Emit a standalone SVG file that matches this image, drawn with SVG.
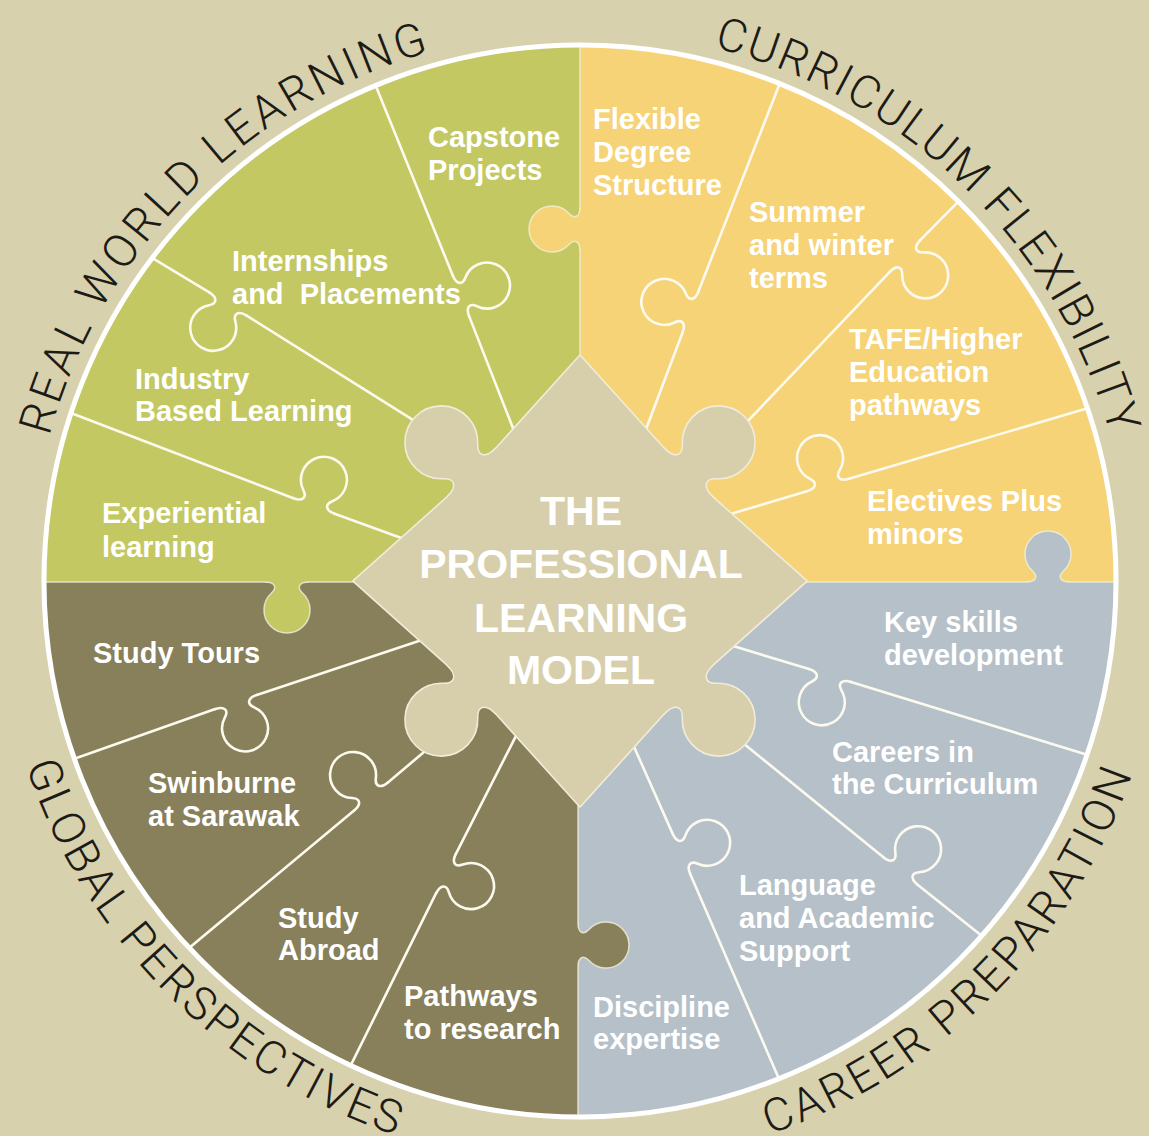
<svg xmlns="http://www.w3.org/2000/svg" xmlns:xlink="http://www.w3.org/1999/xlink" width="1149" height="1136" viewBox="0 0 1149 1136">
<style>
.lbl{font-family:"Liberation Sans",Arial,Helvetica,sans-serif;font-weight:bold;font-size:29px;fill:#ffffff}
.ctr{font-family:"Liberation Sans",Arial,Helvetica,sans-serif;font-weight:bold;font-size:41px;fill:#ffffff;text-anchor:middle}
.arc{font-family:Roboto,"Liberation Sans",Arial,sans-serif;font-weight:300;font-size:46px;fill:#1d1b16}
.div{stroke:#fcfaee;stroke-width:2.6;fill:none;stroke-linecap:round;stroke-linejoin:round}
.qb{stroke:#f2efdc;stroke-width:1.5;fill:none;stroke-opacity:0.8}
</style>
<defs>
<clipPath id="disc"><circle cx="580" cy="581" r="536"/></clipPath>
<path id="knob" d="M-22 0 C-12 0 -9.5 -5.5 -15.5 -11 A23 23 0 1 1 15.5 -11 C9.5 -5.5 12 0 22 0"/>
<path id="knobFill" d="M-22 0 C-12 0 -9.5 -5.5 -15.5 -11 A23 23 0 1 1 15.5 -11 C9.5 -5.5 12 0 22 0 L22 5 L-22 5 Z"/>
<path id="arcRWL" d="M31.8 536.4 A550 550 0 0 1 528.7 33.4"/>
<path id="arcCF" d="M621.7 32.6 A550 550 0 0 1 1127.3 526.9"/>
<path id="arcGP" d="M-1.8 631.9 A584 584 0 0 0 529.1 1162.8"/>
<path id="arcCP" d="M629 1163.9 A585 585 0 0 0 1162.6 634"/>
</defs>

<rect x="0" y="0" width="1149" height="1136" fill="#d8d1ae"/>

<g id="quadrants" clip-path="url(#disc)">
<rect x="0" y="0" width="580" height="582" fill="#c3c862"/>
<rect x="580" y="0" width="569" height="582" fill="#f6d376"/>
<rect x="578" y="582" width="571" height="554" fill="#b6c0c8"/>
<rect x="0" y="582" width="578" height="554" fill="#87805a"/>
<path class="qb" d="M580 40 V362 M40 582 H360 M800 582 H1120 M578 800 V1120"/>
<use xlink:href="#knobFill" transform="matrix(0 1 1 0 580 229)" fill="#f6d376"/>
<use xlink:href="#knobFill" transform="translate(1048 582)" fill="#b6c0c8"/>
<use xlink:href="#knobFill" transform="matrix(0 1 -1 0 578 945)" fill="#87805a"/>
<use xlink:href="#knobFill" transform="matrix(1 0 0 -1 287 582)" fill="#c3c862"/>
<use xlink:href="#knob" class="qb" transform="matrix(0 1 1 0 580 229)"/>
<use xlink:href="#knob" class="qb" transform="translate(1048 582)"/>
<use xlink:href="#knob" class="qb" transform="matrix(0 1 -1 0 578 945)"/>
<use xlink:href="#knob" class="qb" transform="matrix(1 0 0 -1 287 582)"/>
</g>

<g id="connectors" clip-path="url(#disc)">
<path class="div" d="M373.3 79.7 L452.8 275.6 M469.2 316.4 L519.7 445.3"/>
<use xlink:href="#knob" class="div" transform="matrix(0.372 0.928 -0.928 0.372 461 296)"/>
<path class="div" d="M143.5 252.7 L209.3 292.4 M246.7 315.6 L418.5 423.3"/>
<use xlink:href="#knob" class="div" transform="matrix(0.850 0.527 0.527 -0.850 228 304)"/>
<path class="div" d="M61.7 409.5 L293.4 498.2 M334.6 513.8 L416.4 543.5"/>
<use xlink:href="#knob" class="div" transform="matrix(0.935 0.354 -0.354 0.935 314 506)"/>
<path class="div" d="M783.6 73.7 L698.4 291.5 M682.6 332.5 L638.4 449.3"/>
<use xlink:href="#knob" class="div" transform="matrix(-0.361 0.933 0.933 0.361 690.5 312)"/>
<path class="div" d="M964.9 194.8 L920.2 240.1 M889.8 271.9 L740.1 429.2"/>
<use xlink:href="#knob" class="div" transform="matrix(-0.692 0.722 -0.722 -0.692 905 256)"/>
<path class="div" d="M1097.6 405.2 L849.1 478.75 M806.9 491.25 L714.4 518.8"/>
<use xlink:href="#knob" class="div" transform="matrix(-0.959 0.284 0.284 0.959 828 485)"/>
<path class="div" d="M1097.6 757.9 L851 681.95 M809 669.05 L713.4 640.1"/>
<use xlink:href="#knob" class="div" transform="matrix(-0.956 -0.293 0.293 -0.956 830 675.5)"/>
<path class="div" d="M989.8 942.3 L917.6 884.8 M883.4 857.2 L735.2 736.7"/>
<use xlink:href="#knob" class="div" transform="matrix(-0.778 -0.628 -0.628 0.778 900.5 871)"/>
<path class="div" d="M783 1088.2 L690.3 874.15 M672.7 833.85 L626 728.8"/>
<use xlink:href="#knob" class="div" transform="matrix(-0.400 -0.916 -0.916 0.400 681.5 854)"/>
<path class="div" d="M64.5 762.2 L215.2 709.1 M256.8 694.9 L437.5 634.8"/>
<use xlink:href="#knob" class="div" transform="matrix(0.946 -0.323 -0.323 -0.946 236 702)"/>
<path class="div" d="M181.3 954.4 L354.1 810.6 M387.9 782.4 L431.7 745.6"/>
<use xlink:href="#knob" class="div" transform="matrix(0.768 -0.641 0.641 0.768 371 796.5)"/>
<path class="div" d="M346.5 1073.9 L436.1 893.2 M455.9 853.8 L523.5 721.1"/>
<use xlink:href="#knob" class="div" transform="matrix(0.448 -0.894 -0.894 -0.448 446 873.5)"/>
</g>

<g id="center">
<g fill="#d7cfac" stroke="#f0ecd9" stroke-width="3.2" stroke-linejoin="round">
<path d="M580 356 L496 449 L448 497 L354 581 L448 665 L496 713 L580 806 L664 713 L712 665 L806 581 L712 497 L664 449 Z"/>
<use xlink:href="#knobFill" stroke-width="2" transform="matrix(-1.096 1.096 1.096 1.096 472 473)"/>
<use xlink:href="#knobFill" stroke-width="2" transform="matrix(1.096 1.096 1.096 -1.096 472 689)"/>
<use xlink:href="#knobFill" stroke-width="2" transform="matrix(1.096 -1.096 -1.096 -1.096 688 689)"/>
<use xlink:href="#knobFill" stroke-width="2" transform="matrix(-1.096 -1.096 -1.096 1.096 688 473)"/>
</g>
<g fill="#d7cfac">
<path d="M580 356 L496 449 L448 497 L354 581 L448 665 L496 713 L580 806 L664 713 L712 665 L806 581 L712 497 L664 449 Z"/>
<use xlink:href="#knobFill" transform="matrix(-1.096 1.096 1.096 1.096 472 473)"/>
<use xlink:href="#knobFill" transform="matrix(1.096 1.096 1.096 -1.096 472 689)"/>
<use xlink:href="#knobFill" transform="matrix(1.096 -1.096 -1.096 -1.096 688 689)"/>
<use xlink:href="#knobFill" transform="matrix(-1.096 -1.096 -1.096 1.096 688 473)"/>
</g>
<text class="ctr"><tspan x="581" y="525">THE</tspan><tspan x="581" y="578">PROFESSIONAL</tspan><tspan x="581" y="632">LEARNING</tspan><tspan x="581" y="684">MODEL</tspan></text>
</g>

<circle id="ring" cx="580" cy="581" r="536" fill="none" stroke="#ffffff" stroke-width="5"/>

<g id="categories">
<text class="arc"><textPath xlink:href="#arcRWL" startOffset="50%" text-anchor="middle" textLength="565" lengthAdjust="spacing">REAL WORLD LEARNING</textPath></text>
<text class="arc"><textPath xlink:href="#arcCF" startOffset="50%" text-anchor="middle" textLength="581" lengthAdjust="spacing">CURRICULUM FLEXIBILITY</textPath></text>
<text class="arc"><textPath xlink:href="#arcGP" startOffset="50%" text-anchor="middle" textLength="542" lengthAdjust="spacing">GLOBAL PERSPECTIVES</textPath></text>
<text class="arc"><textPath xlink:href="#arcCP" startOffset="50%" text-anchor="middle" textLength="529" lengthAdjust="spacing">CAREER PREPARATION</textPath></text>
</g>

<g id="capstone"><text class="lbl"><tspan x="428" y="147">Capstone</tspan><tspan x="428" y="180">Projects</tspan></text></g>
<g id="internships"><text class="lbl" xml:space="preserve"><tspan x="232" y="271">Internships</tspan><tspan x="232" y="304">and  Placements</tspan></text></g>
<g id="industry"><text class="lbl"><tspan x="135" y="389">Industry</tspan><tspan x="135" y="421">Based Learning</tspan></text></g>
<g id="experiential"><text class="lbl"><tspan x="102" y="523">Experiential</tspan><tspan x="102" y="557">learning</tspan></text></g>

<g id="flexible"><text class="lbl"><tspan x="593" y="129">Flexible</tspan><tspan x="593" y="162">Degree</tspan><tspan x="593" y="195">Structure</tspan></text></g>
<g id="summer"><text class="lbl"><tspan x="749" y="222">Summer</tspan><tspan x="749" y="255">and winter</tspan><tspan x="749" y="288">terms</tspan></text></g>
<g id="tafe"><text class="lbl"><tspan x="849" y="349">TAFE/Higher</tspan><tspan x="849" y="382">Education</tspan><tspan x="849" y="415">pathways</tspan></text></g>
<g id="electives"><text class="lbl"><tspan x="867" y="511">Electives Plus</tspan><tspan x="867" y="544">minors</tspan></text></g>

<g id="keyskills"><text class="lbl"><tspan x="884" y="632">Key skills</tspan><tspan x="884" y="665">development</tspan></text></g>
<g id="careers"><text class="lbl"><tspan x="832" y="762">Careers in</tspan><tspan x="832" y="794">the Curriculum</tspan></text></g>
<g id="language"><text class="lbl"><tspan x="739" y="895">Language</tspan><tspan x="739" y="928">and Academic</tspan><tspan x="739" y="961">Support</tspan></text></g>
<g id="discipline"><text class="lbl"><tspan x="593" y="1017">Discipline</tspan><tspan x="593" y="1049">expertise</tspan></text></g>

<g id="studytours"><text class="lbl"><tspan x="93" y="663">Study Tours</tspan></text></g>
<g id="swinburne"><text class="lbl"><tspan x="148" y="793">Swinburne</tspan><tspan x="148" y="826">at Sarawak</tspan></text></g>
<g id="studyabroad"><text class="lbl"><tspan x="278" y="928">Study</tspan><tspan x="278" y="960">Abroad</tspan></text></g>
<g id="pathways"><text class="lbl"><tspan x="404" y="1006">Pathways</tspan><tspan x="404" y="1039">to research</tspan></text></g>
</svg>
